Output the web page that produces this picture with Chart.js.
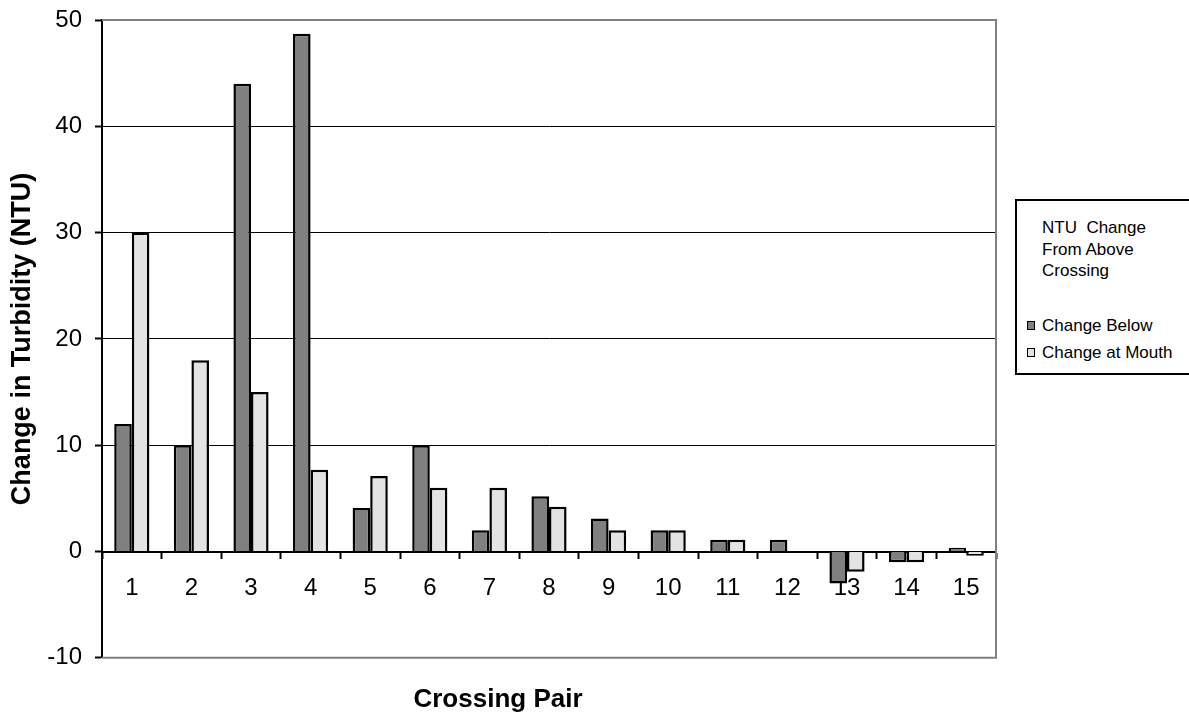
<!DOCTYPE html>
<html>
<head>
<meta charset="utf-8">
<script src="https://cdn.jsdelivr.net/npm/chart.js@4/dist/chart.umd.min.js"></script>
<style>
  html, body { margin: 0; padding: 0; background: #fff; }
  #wrap { position: relative; width: 1189px; height: 715px; }
  #legend {
    position: absolute; left: 1015px; top: 199px; width: 176px; height: 176px;
    box-sizing: border-box; border: 2px solid #000; background: #fff;
    font-family: "Liberation Sans", Arial, sans-serif; font-size: 17px; color: #000;
  }
  #legend .ttl { position: absolute; left: 25px; top: 16px; line-height: 21.5px; white-space: pre; }
  #legend .item { position: absolute; left: 10px; height: 20px; line-height: 20px; white-space: nowrap; }
  #legend .sw { display: inline-block; width: 6px; height: 7px; border: 1.5px solid #000; margin-right: 7px; vertical-align: 1px; }
</style>
</head>
<body>
<div id="wrap">
  <canvas id="c" width="1189" height="715"></canvas>
  <div id="legend"></div>
</div>
<script>
// Crossing pairs along the x axis
const pairs = ['1','2','3','4','5','6','7','8','9','10','11','12','13','14','15'];
// Turbidity change (NTU) from above each crossing
const changeBelow = [12, 10, 44, 48.7, 4.1, 10, 2, 5.2, 3.1, 2, 1.1, 1.1, -3, -1, 0.35];
const changeAtMouth = [30, 18, 15, 7.7, 7.1, 6, 6, 4.2, 2, 2, 1.1, null, -1.9, -1, -0.4];
const seriesNames = ['Change Below', 'Change at Mouth'];
const legendTitle = 'NTU  Change\nFrom Above\nCrossing';
const yTicks = [-10, 0, 10, 20, 30, 40, 50];

const FONT = '"Liberation Sans", Arial, sans-serif';
const colors = ['#808080', '#e3e3e3'];

// Gray frame on the top, right and bottom of the plot area
const plotFrame = {
  id: 'plotFrame',
  beforeDatasetsDraw(chart) {
    const { ctx, chartArea: a } = chart;
    ctx.save();
    ctx.strokeStyle = '#808080';
    ctx.lineWidth = 2;
    ctx.beginPath();
    ctx.moveTo(a.left, a.top);
    ctx.lineTo(a.right, a.top);
    ctx.lineTo(a.right, a.bottom);
    ctx.lineTo(a.left, a.bottom);
    ctx.stroke();
    ctx.restore();
  }
};

const chart = new Chart(document.getElementById('c'), {
  type: 'bar',
  data: {
    labels: pairs,
    datasets: [
      { label: seriesNames[0], data: changeBelow, backgroundColor: colors[0] },
      { label: seriesNames[1], data: changeAtMouth, backgroundColor: colors[1] }
    ]
  },
  options: {
    responsive: false,
    animation: false,
    layout: { padding: { top: 20, right: 193, bottom: 0, left: 0 } },
    datasets: {
      bar: {
        borderColor: '#000', borderWidth: 2.5,
        categoryPercentage: 0.59, barPercentage: 1
      }
    },
    plugins: {
      legend: { display: false },
      tooltip: { enabled: false },
      title: {
        display: true, position: 'bottom', text: 'Crossing Pair', color: '#000',
        font: { family: FONT, size: 26, weight: 'bold' },
        padding: { top: 26, bottom: 0 }
      }
    },
    scales: {
      x: {
        position: { y: 0 },
        grid: {
          offset: true, drawOnChartArea: false, drawTicks: true,
          tickLength: 6, tickColor: '#000', tickWidth: 2
        },
        border: { display: true, color: '#000', width: 2 },
        ticks: { color: '#000', font: { family: FONT, size: 24 }, padding: 16, maxRotation: 0 }
      },
      y: {
        min: -10, max: 50,
        afterFit(scale) { scale.width = 102; scale.paddingTop = 0; scale.paddingBottom = 0; },
        afterBuildTicks(scale) { scale.ticks = yTicks.map(v => ({ value: v })); },
        grid: {
          color: ctx => (ctx.tick && (ctx.tick.value === 50 || ctx.tick.value === -10)) ? 'rgba(0,0,0,0)' : '#000',
          lineWidth: 1, tickLength: 7, tickColor: '#000', tickWidth: 2
        },
        border: { display: true, color: '#000', width: 2 },
        ticks: { color: '#000', font: { family: FONT, size: 24 }, padding: 13 },
        title: {
          display: true, text: 'Change in Turbidity (NTU)', color: '#000',
          font: { family: FONT, size: 27, weight: 'bold' },
          padding: { top: 6, bottom: 0 }
        }
      }
    }
  },
  plugins: [plotFrame]
});

// Legend box built from the dataset names and colours
const lg = document.getElementById('legend');
const t = document.createElement('div');
t.className = 'ttl';
t.textContent = legendTitle;
lg.appendChild(t);
chart.data.datasets.forEach((ds, i) => {
  const it = document.createElement('div');
  it.className = 'item';
  it.style.top = (115 + i * 27) + 'px';
  const sw = document.createElement('span');
  sw.className = 'sw';
  sw.style.background = ds.backgroundColor;
  it.appendChild(sw);
  it.appendChild(document.createTextNode(ds.label));
  lg.appendChild(it);
});
</script>
</body>
</html>
